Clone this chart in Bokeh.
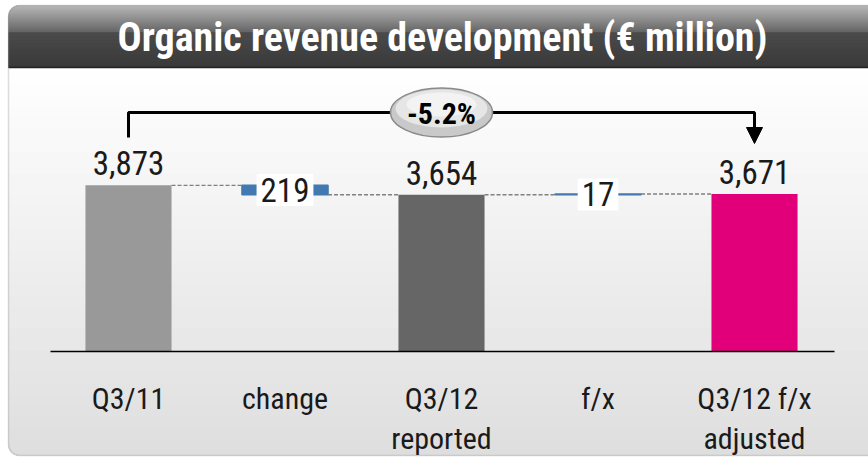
import numpy as np
from bokeh.plotting import figure
from bokeh.models import Range1d, Arrow, NormalHead, BoxAnnotation
from bokeh.core.properties import value
from bokeh.embed import file_html
from bokeh.resources import INLINE

# ---------------- data ----------------
categories = ["Q3/11", "change", "Q3/12\nreported", "f/x", "Q3/12 f/x\nadjusted"]
start_value = 3873
change_value = -219
reported_value = 3654
fx_value = 17
adjusted_value = 3671
total_labels = ["3,873", "3,654", "3,671"]
delta_labels = ["219", "17"]
growth_label = "-5.2%"
title_text = "Organic revenue development (\u20ac million)"

FONT = "'Roboto Condensed', 'DejaVu Sans Condensed', Roboto"

# ---------------- layout helpers (reference pixel -> data) ----------------
W, H = 868, 457
X0, DX = 128.0, 156.5     # pixel of category 0, pixels per category
Y0, K = 351.0, 0.0429     # pixel of value 0, pixels per unit


def RX(rx):
    return (rx - X0) / DX


def RY(ry):
    return (Y0 - ry) / K


p = figure(width=W, height=H, x_range=Range1d(RX(0), RX(W)),
           y_range=Range1d(RY(H), RY(0)), output_backend="svg",
           toolbar_location=None, min_border=0,
           x_axis_location=None, y_axis_location=None)
p.grid.visible = False
p.outline_line_color = None
p.background_fill_color = "white"
p.border_fill_color = "white"


def lerp(c1, c2, t):
    return "#%02x%02x%02x" % tuple(int(round(a + (b - a) * t)) for a, b in zip(c1, c2))


def inset(yc, top, bottom, r, round_top, round_bottom):
    d = None
    if round_top and yc - top < r:
        d = yc - top
    if round_bottom and bottom - yc < r:
        d = bottom - yc
    if d is None:
        return 0.0
    d = max(d, 0.0)
    return r - np.sqrt(max(r * r - (r - d) ** 2, 0.0))


# background panel gradient
LEFT, RIGHT = 8, 880
R = 11
bl, br, bt, bb, bc = [], [], [], [], []
top_, bot_ = 67, 455
for y in range(top_, bot_):
    t = (y - top_) / (bot_ - top_)
    bt.append(RY(y)); bb.append(RY(y + 1))
    bl.append(RX(LEFT + inset(y + 0.5, top_, bot_, R, False, True)))
    br.append(RX(RIGHT))
    bc.append(lerp((255, 255, 255), (220, 220, 220), t))
p.quad(left=bl, right=br, top=bt, bottom=bb, fill_color=bc, line_color=bc, line_width=0.5)

# title bar gradient
tl, tr, tt, tb, tc = [], [], [], [], []
top_, bot_ = 5, 67
for y in range(top_, bot_):
    t = (y - top_) / (bot_ - top_)
    if t < 0.42:
        c = lerp((178, 178, 178), (92, 92, 92), t / 0.42)
    else:
        c = lerp((64, 64, 64), (44, 44, 44), (t - 0.42) / 0.58)
    tt.append(RY(y)); tb.append(RY(y + 1))
    tl.append(RX(LEFT + inset(y + 0.5, top_, bot_, R, True, False)))
    tr.append(RX(RIGHT))
    tc.append(c)
p.quad(left=tl, right=tr, top=tt, bottom=tb, fill_color=tc, line_color=tc, line_width=0.5)

# panel border
p.add_layout(BoxAnnotation(left=RX(LEFT), right=RX(RIGHT + 20), top=RY(5), bottom=RY(455),
                           fill_alpha=0, line_color="#8c8c8c", line_width=1.5,
                           border_radius=R, level="overlay"))
p.segment(x0=[RX(LEFT)], x1=[RX(RIGHT)], y0=[RY(67)], y1=[RY(67)], line_color="#222222", line_width=1.5)

# ---------------- waterfall ----------------
bar_w = 0.55
totals_x = [0, 2, 4]
totals_top = [start_value, reported_value, adjusted_value]
totals_col = ["#999999", "#666666", "#e2007a"]
p.vbar(x=totals_x, width=bar_w, bottom=0, top=totals_top, fill_color=totals_col, line_color=None)

delta_x = [1, 3]
delta_bottom = [start_value + change_value, reported_value]
delta_top = [start_value, reported_value + fx_value]
p.vbar(x=delta_x, width=bar_w, bottom=delta_bottom, top=delta_top,
       fill_color="#4279b0", line_color="#4279b0", line_width=1.5)

levels = np.cumsum([start_value, change_value, reported_value - (start_value + change_value), fx_value])
conn_x0 = [i + bar_w / 2 for i in range(4)]
conn_x1 = [i + 1 - bar_w / 2 for i in range(4)]
p.segment(x0=conn_x0, x1=conn_x1, y0=list(levels), y1=list(levels),
          line_color="#808080", line_width=1.3, line_dash="4 2")

# axis line
p.segment(x0=[RX(50)], x1=[RX(834)], y0=[0], y1=[0], line_color="black", line_width=1.5)

# value labels
label_gap = 22 / K
p.text(x=totals_x, y=[v + label_gap for v in totals_top], text=total_labels, text_font=value(FONT),
       text_font_size="33px", text_align="center", text_baseline="alphabetic",
       text_color="#1a1a1a")
delta_mid = [(a + b) / 2 for a, b in zip(delta_bottom, delta_top)]
p.text(x=delta_x, y=delta_mid, text=delta_labels, text_font=value(FONT),
       text_font_size="33px", text_align="center", text_baseline="middle",
       text_color="#1a1a1a", background_fill_color="white", padding=4)

# category labels
p.text(x=list(range(5)), y=[RY(380)] * 5, text=categories, text_font=value(FONT),
       text_font_size="30px", text_align="center", text_baseline="top",
       text_line_height=1.15, text_color="#1a1a1a")

# bracket with growth
p.line(x=[0, 0, 4, 4], y=[RY(137), RY(112), RY(112), RY(128)], line_color="black", line_width=3)
p.add_layout(Arrow(end=NormalHead(size=16, fill_color="black", line_color="black"),
                   x_start=4, y_start=RY(125), x_end=4, y_end=RY(143),
                   line_color="black", line_width=3))
p.ellipse(x=[2], y=[RY(112)], width=102, height=49, width_units="screen", height_units="screen",
          fill_color="#c9c9c9", line_color="#8a8a8a", line_width=1.5)
p.ellipse(x=[2], y=[RY(108)], width=92, height=38, width_units="screen", height_units="screen",
          fill_color="#e6e6e6", line_color=None)
p.ellipse(x=[2], y=[RY(104)], width=70, height=24, width_units="screen", height_units="screen",
          fill_color="#f3f3f3", line_color=None)
p.text(x=[2], y=[RY(113)], text=[growth_label], text_font=value(FONT), text_font_style="bold",
       text_font_size="30px", text_align="center", text_baseline="middle", text_color="black")

# title
p.text(x=[RX(442)], y=[RY(37)], text=[title_text], text_font=value(FONT), text_font_style="bold",
       text_font_size="40px", text_align="center", text_baseline="middle", text_color="white")

open("out.html", "w").write(file_html(p, INLINE))
